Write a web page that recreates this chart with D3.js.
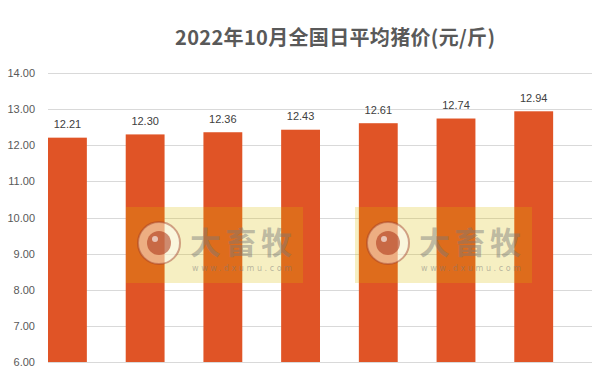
<!DOCTYPE html>
<html lang="zh">
<head>
    <meta charset="UTF-8">
    <title>2022年10月全国日平均猪价</title>
    <script src="https://d3js.org/d3.v7.min.js"></script>
    <style>
        body { margin: 0; background: #fff; }
        .axis path, .axis line { display: none; }
    </style>
</head>
<body>
    <div id="chart"></div>
    <script>
        // data
        const categories = ["1", "2", "3", "4", "5", "6", "7"];
        const prices = [12.21, 12.30, 12.36, 12.43, 12.61, 12.74, 12.94];
        const yTicks = [6, 7, 8, 9, 10, 11, 12, 13, 14];
        const title = "2022年10月全国日平均猪价(元/斤)";

        const width = 608, height = 380;
        const margin = {top: 73, right: 16, bottom: 18, left: 48};

        const svg = d3.select("#chart").append("svg")
            .attr("width", width)
            .attr("height", height);

        const x = d3.scaleBand()
            .domain(categories)
            .range([margin.left, width - margin.right])
            .paddingInner(0).paddingOuter(0);

        const y = d3.scaleLinear()
            .domain([6, 14])
            .range([height - margin.bottom, margin.top]);

        svg.append("text")
            .attr("x", 335)
            .attr("y", 45)
            .attr("text-anchor", "middle")
            .attr("textLength", 320)
            .style("font-family", "'Noto Sans CJK SC', sans-serif")
            .style("font-weight", "bold")
            .style("font-size", "20px")
            .style("fill", "#595959")
            .text(title);

        // gridlines
        svg.append("g")
            .selectAll("line")
            .data(yTicks)
            .enter().append("line")
            .attr("x1", margin.left)
            .attr("x2", width - margin.right)
            .attr("y1", d => Math.round(y(d)) + 0.5)
            .attr("y2", d => Math.round(y(d)) + 0.5)
            .style("stroke", "#d9d9d9")
            .style("stroke-width", 1);

        const yAxis = svg.append("g")
            .attr("class", "axis")
            .attr("transform", `translate(${margin.left - 13},0)`)
            .call(d3.axisLeft(y).tickValues(yTicks).tickSize(0).tickPadding(0).tickFormat(d3.format(".2f")));

        yAxis.selectAll("text")
            .style("font-family", "'Liberation Sans', Arial, sans-serif")
            .style("font-size", "11px")
            .style("fill", "#595959");

        const bw = x.bandwidth() * 0.5;

        svg.append("g")
            .selectAll("rect")
            .data(prices)
            .enter().append("rect")
            .attr("x", (d, i) => x(categories[i]))
            .attr("width", bw)
            .attr("y", d => y(d))
            .attr("height", d => y(6) - y(d))
            .style("fill", "#e05426");

        svg.append("g")
            .selectAll("text")
            .data(prices)
            .enter().append("text")
            .attr("x", (d, i) => x(categories[i]) + bw / 2)
            .attr("y", d => y(d) - 9.5)
            .attr("text-anchor", "middle")
            .style("font-family", "'Liberation Sans', Arial, sans-serif")
            .style("font-size", "11px")
            .style("fill", "#404040")
            .text(d => d.toFixed(2));

        // watermark stamps over the chart
        const marks = [{x: 126, y: 207}, {x: 355, y: 207}];
        marks.forEach(m => {
            const g = svg.append("g").attr("transform", `translate(${m.x},${m.y})`);
            g.append("rect")
                .attr("width", 177).attr("height", 76)
                .style("fill", "rgba(216,187,0,0.24)");
            g.append("circle")
                .attr("cx", 33).attr("cy", 36).attr("r", 21)
                .style("fill", "rgba(255,255,255,0.45)")
                .style("stroke", "rgba(160,60,40,0.45)")
                .style("stroke-width", 2);
            g.append("circle")
                .attr("cx", 33).attr("cy", 36).attr("r", 12)
                .style("fill", "rgba(170,50,20,0.55)");
            g.append("circle")
                .attr("cx", 29).attr("cy", 32).attr("r", 3)
                .style("fill", "rgba(255,255,255,0.6)");
            g.append("text")
                .attr("x", 64).attr("y", 47)
                .attr("textLength", 102)
                .style("font-family", "'Noto Sans CJK SC', sans-serif")
                .style("font-weight", "bold")
                .style("font-size", "31px")
                .style("fill", "rgba(120,120,120,0.45)")
                .text("大畜牧");
            g.append("text")
                .attr("x", 66).attr("y", 64)
                .attr("textLength", 100)
                .style("font-family", "'DejaVu Sans', sans-serif")
                .style("font-size", "8px")
                .style("fill", "rgba(120,120,120,0.5)")
                .text("www.dxumu.com");
        });
    </script>
</body>
</html>
